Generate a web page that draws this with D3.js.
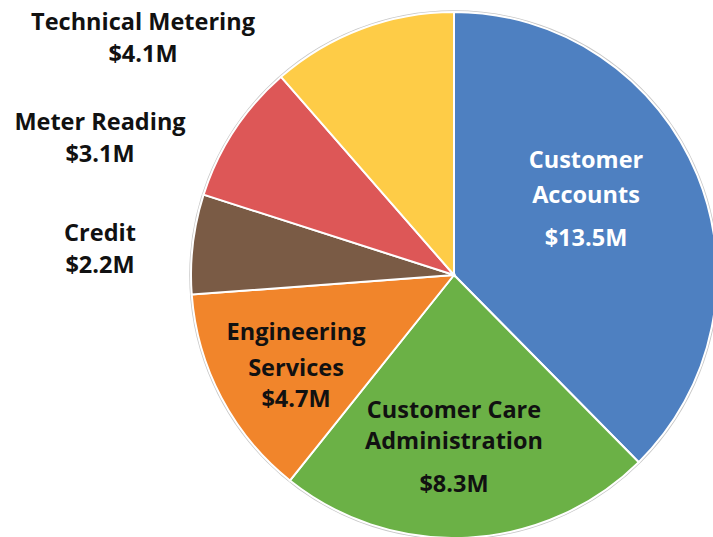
<!DOCTYPE html>
<html lang="en">
<head>
    <meta charset="UTF-8">
    <title>Cost by Function</title>
    <style>
        body { margin: 0; background: #fff; }
        .label { font-family: "Open Sans", "Noto Sans", sans-serif; font-weight: 700; font-size: 23.5px; }
    </style>
</head>
<body>
    <svg id="chart" width="713" height="537"></svg>
    <script src="https://d3js.org/d3.v7.min.js"></script>
    <script>
        // Slices, clockwise from 12 o'clock
        const categories = ["Customer Accounts", "Customer Care Administration", "Engineering Services",
            "Credit", "Meter Reading", "Technical Metering"];
        const values = [13.5, 8.3, 4.7, 2.2, 3.1, 4.1];   // $M
        const labelLines = [["Customer", "Accounts"], ["Customer Care", "Administration"], ["Engineering", "Services"],
            ["Credit"], ["Meter Reading"], ["Technical Metering"]];
        const colors = ["#4e80c1", "#6bb146", "#f1852b", "#7a5b45", "#dd5757", "#fecc47"];

        // label placement: first baseline relative to pie centre, then gaps between lines
        const labelAt = [[132, -107], [0, 143], [-158, 65], [-354, -34], [-354, -145], [-311, -245]];
        const lineGaps = [[35, 43], [31, 43], [36, 31], [32], [32], [32]];
        const labelColor = ["#fff", "#111", "#111", "#111", "#111", "#111"];

        const svg = d3.select("#chart");
        const cx = 454, cy = 275, r = 263;

        const pie = d3.pie().sort(null).value(d => d)(values);
        const arc = d3.arc().innerRadius(0).outerRadius(r);

        const g = svg.append("g").attr("transform", `translate(${cx},${cy})`);

        g.append("circle")
            .attr("r", r + 1)
            .attr("fill", "none")
            .attr("stroke", "#c8c8c8")
            .attr("stroke-width", 1.5);

        g.selectAll(".slice")
            .data(pie)
            .enter().append("path")
            .attr("class", "slice")
            .attr("d", arc)
            .attr("fill", (d, i) => colors[i])
            .attr("stroke", "#fff")
            .attr("stroke-width", 2);

        // labels, one text per line
        pie.forEach((d, i) => {
            const lines = labelLines[i].concat([`$${values[i].toFixed(1)}M`]);
            let y = labelAt[i][1];
            lines.forEach((s, j) => {
                if (j > 0) y += lineGaps[i][j - 1];
                g.append("text")
                    .attr("class", "label")
                    .attr("text-anchor", "middle")
                    .attr("fill", labelColor[i])
                    .attr("x", labelAt[i][0])
                    .attr("y", y)
                    .text(s);
            });
        });
    </script>
</body>
</html>
